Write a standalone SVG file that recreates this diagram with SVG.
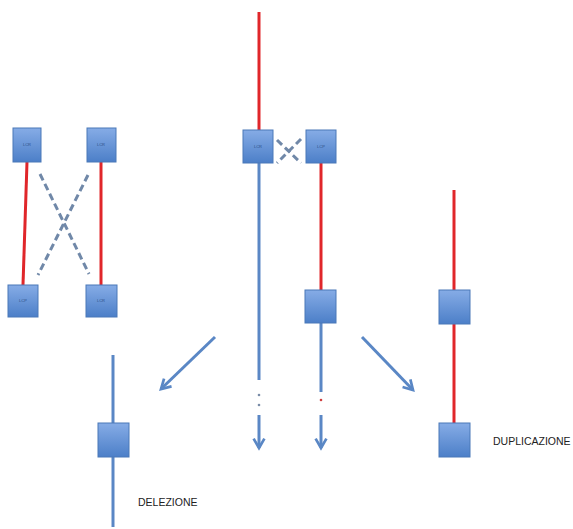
<svg xmlns="http://www.w3.org/2000/svg" width="573" height="529" viewBox="0 0 573 529">
<defs>
<linearGradient id="g" x1="0" y1="0" x2="0" y2="1">
<stop offset="0" stop-color="#86ace6"/>
<stop offset="1" stop-color="#4c7fc8"/>
</linearGradient>
<marker id="ah" viewBox="0 0 10 10" refX="8" refY="5" markerWidth="4.5" markerHeight="4.5" orient="auto" markerUnits="strokeWidth">
<path d="M1,1 L8,5 L1,9" fill="none" stroke="#5a87c5" stroke-width="2"/>
</marker>
</defs>
<style>
.box{fill:url(#g);stroke:#4a78b8;stroke-width:1}
.lbl{font-family:"Liberation Sans",Arial,sans-serif;font-size:4px;fill:#2c4f86;text-anchor:middle}
.red{stroke:#e0262a;stroke-width:3;fill:none}
.blue{stroke:#5a87c5;stroke-width:3;fill:none}
.dash{stroke:#7088a8;stroke-width:3;stroke-dasharray:7,4;fill:none}
.dot{fill:#7a8ca8}
.arr{stroke:#5a87c5;stroke-width:3;fill:none;marker-end:url(#ah)}
.txt{font-family:"Liberation Sans",Arial,sans-serif;font-size:10.5px;fill:#222}
</style>
<rect width="573" height="529" fill="#fff"/>
<g id="connectors">
<line class="red" x1="27" y1="162" x2="23" y2="285"/>
<line class="red" x1="101" y1="162" x2="101" y2="285"/>
<line class="dash" x1="40" y1="174" x2="89" y2="274"/>
<line class="dash" x1="88" y1="175" x2="38" y2="275"/>
<line class="red" x1="259" y1="12" x2="259" y2="130"/>
<line class="dash" x1="277" y1="140" x2="301" y2="163" stroke-dasharray="6,3"/>
<line class="dash" x1="301" y1="139" x2="277" y2="163" stroke-dasharray="6,3"/>
<line class="blue" x1="259" y1="163" x2="259" y2="380"/>
<circle class="dot" cx="259" cy="395" r="1.3"/>
<circle class="dot" cx="259" cy="405" r="1.3"/>
<line class="arr" x1="259" y1="415" x2="259" y2="448"/>
<line class="red" x1="321" y1="163" x2="321" y2="290"/>
<line class="blue" x1="321" y1="323" x2="321" y2="392"/>
<circle cx="321" cy="400" r="1.3" fill="#d04040"/>
<line class="arr" x1="321" y1="415" x2="321" y2="448"/>
<line class="arr" x1="215" y1="337" x2="161" y2="389"/>
<line class="arr" x1="362" y1="337" x2="413" y2="390"/>
<line class="blue" x1="113" y1="355" x2="113" y2="527"/>
<line class="red" x1="454" y1="190" x2="454" y2="290"/>
<line class="red" x1="454" y1="324" x2="454" y2="423"/>
</g>
<g id="n1"><rect class="box" x="13" y="128" width="28" height="34"/><text class="lbl" x="27" y="146">LCR</text></g>
<g id="n2"><rect class="box" x="87" y="128" width="29" height="34"/><text class="lbl" x="101" y="146">LCR</text></g>
<g id="n3"><rect class="box" x="8" y="285" width="30" height="32"/><text class="lbl" x="23" y="302">LCP</text></g>
<g id="n4"><rect class="box" x="86" y="285" width="31" height="32"/><text class="lbl" x="101" y="302">LCR</text></g>
<g id="n5"><rect class="box" x="243" y="130" width="30" height="33"/><text class="lbl" x="258" y="148">LCR</text></g>
<g id="n6"><rect class="box" x="306" y="130" width="30" height="33"/><text class="lbl" x="321" y="148">LCP</text></g>
<g id="n7"><rect class="box" x="305" y="290" width="31" height="33"/></g>
<g id="n8"><rect class="box" x="98" y="423" width="31" height="34"/></g>
<g id="n9"><rect class="box" x="439" y="290" width="31" height="34"/></g>
<g id="n10"><rect class="box" x="439" y="423" width="31" height="34"/></g>
<text class="txt" x="138" y="506">DELEZIONE</text>
<text class="txt" x="493" y="445">DUPLICAZIONE</text>
</svg>
